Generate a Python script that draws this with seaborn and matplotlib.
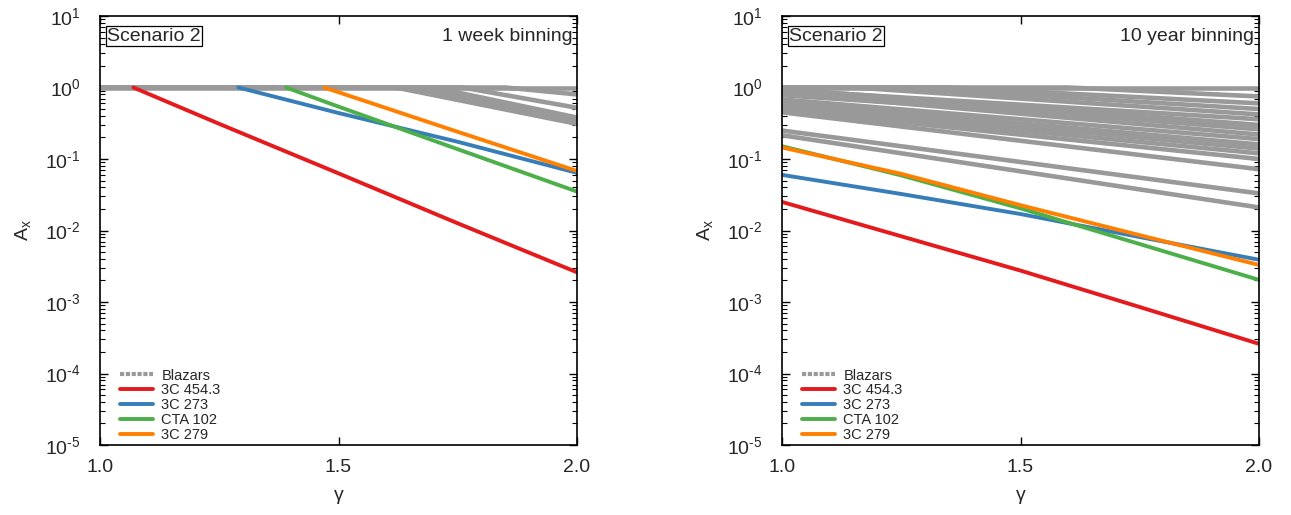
import math
import pandas as pd
import seaborn as sns
import matplotlib.pyplot as plt
from matplotlib.lines import Line2D
from matplotlib.ticker import LogLocator, NullFormatter, FixedLocator, FuncFormatter

# ---- 1 week binning (left panel) ----
red_w_g = [1.07, 1.25, 1.5, 1.75, 2.0]
red_w = [1.0, 0.31, 0.063, 0.0126, 0.0026]
blue_w_g = [1.29, 1.5, 1.75, 2.0]
blue_w = [1.0, 0.44, 0.174, 0.064]
green_w_g = [1.39, 1.5, 1.75, 2.0]
green_w = [1.0, 0.54, 0.137, 0.035]
orange_w_g = [1.47, 1.75, 2.0]
orange_w = [1.0, 0.24, 0.068]

gray_w = [
    ([1.0, 2.0], [1.0, 1.0]),
    ([1.0, 1.62, 2.0], [1.0, 1.0, 0.31]),
    ([1.0, 1.66, 2.0], [1.0, 1.0, 0.34]),
    ([1.0, 1.70, 2.0], [1.0, 1.0, 0.38]),
    ([1.0, 1.76, 2.0], [1.0, 1.0, 0.52]),
    ([1.0, 1.85, 2.0], [1.0, 1.0, 0.80]),
]

# ---- 10 year binning (right panel) ----
red_y_g = [1.0, 1.25, 1.5, 1.75, 2.0]
red_y = [0.0251, 0.0083, 0.00275, 0.00085, 0.00026]
blue_y_g = [1.0, 1.25, 1.5, 1.75, 2.0]
blue_y = [0.060, 0.0324, 0.0170, 0.0081, 0.0039]
green_y_g = [1.0, 1.25, 1.5, 1.75, 2.0]
green_y = [0.151, 0.059, 0.0204, 0.00646, 0.00204]
orange_y_g = [1.0, 1.25, 1.5, 1.75, 2.0]
orange_y = [0.145, 0.062, 0.0226, 0.0086, 0.0033]

gray_y = [
    ([1.0, 2.0], [1.0, 1.0]),
    ([1.0, 1.6, 2.0], [1.0, 1.0, 0.75]),
    ([1.0, 1.35, 2.0], [1.0, 1.0, 0.60]),
    ([1.0, 1.25, 2.0], [1.0, 1.0, 0.50]),
    ([1.0, 1.15, 2.0], [1.0, 1.0, 0.42]),
    ([1.0, 2.0], [0.95, 0.30]),
    ([1.0, 2.0], [0.92, 0.36]),
    ([1.0, 2.0], [0.88, 0.26]),
    ([1.0, 2.0], [0.84, 0.22]),
    ([1.0, 2.0], [0.78, 0.28]),
    ([1.0, 2.0], [0.68, 0.19]),
    ([1.0, 2.0], [0.62, 0.16]),
    ([1.0, 2.0], [0.57, 0.14]),
    ([1.0, 2.0], [0.52, 0.12]),
    ([1.0, 2.0], [0.48, 0.10]),
    ([1.0, 2.0], [0.45, 0.072]),
    ([1.0, 2.0], [0.25, 0.033]),
    ([1.0, 2.0], [0.215, 0.021]),
]

names = ['3C 454.3', '3C 273', 'CTA 102', '3C 279']
colors = ['#e41a1c', '#377eb8', '#4daf4a', '#ff7f00']
gray = '#999999'
y_ticks = [1e-5, 1e-4, 1e-3, 1e-2, 1e-1, 1e0, 1e1]

panels = [
    ('1 week binning', gray_w,
     [(red_w_g, red_w), (blue_w_g, blue_w), (green_w_g, green_w), (orange_w_g, orange_w)]),
    ('10 year binning', gray_y,
     [(red_y_g, red_y), (blue_y_g, blue_y), (green_y_g, green_y), (orange_y_g, orange_y)]),
]

sns.set_style('ticks')
plt.rcParams['font.family'] = ['Liberation Sans', 'DejaVu Sans']
plt.rcParams['mathtext.fontset'] = 'custom'
plt.rcParams['mathtext.rm'] = 'Liberation Sans'
plt.rcParams['mathtext.it'] = 'Liberation Sans:italic'
plt.rcParams['mathtext.default'] = 'regular'


def pow_label(v, pos):
    # gnuplot-style "10^-1" with a short hyphen
    e = int(round(math.log10(v)))
    return '10$^{%s}$' % str(e).replace('-', '\u2010')


fig = plt.figure(figsize=(12.91, 5.15), dpi=100)
ax_pos = [[100 / 1291, 70 / 515, 477 / 1291, 429 / 515],
          [782 / 1291, 70 / 515, 477 / 1291, 429 / 515]]

for pos, (label, gray_lines, src) in zip(ax_pos, panels):
    ax = fig.add_axes(pos)

    rows = []
    for i, (g, v) in enumerate(gray_lines):
        for gg, vv in zip(g, v):
            rows.append({'gamma': gg, 'A': vv, 'line': i})
    df_gray = pd.DataFrame(rows)
    sns.lineplot(data=df_gray, x='gamma', y='A', units='line', estimator=None,
                 color=gray, linewidth=3.3, legend=False, ax=ax)

    rows = []
    for name, (g, v) in zip(names, src):
        for gg, vv in zip(g, v):
            rows.append({'gamma': gg, 'A': vv, 'name': name})
    df_src = pd.DataFrame(rows)
    sns.lineplot(data=df_src, x='gamma', y='A', hue='name', hue_order=names,
                 palette=colors, estimator=None, linewidth=2.8, legend=False, ax=ax)

    ax.set_yscale('log')
    ax.set_ylim(1e-5, 1e1)
    ax.set_xlim(1.0, 2.0)
    ax.xaxis.set_major_locator(FixedLocator([1.0, 1.5, 2.0]))
    ax.set_xticklabels(['1.0', '1.5', '2.0'])
    ax.yaxis.set_major_locator(FixedLocator(y_ticks))
    ax.yaxis.set_major_formatter(FuncFormatter(pow_label))
    ax.yaxis.set_minor_locator(LogLocator(base=10, subs=range(2, 10), numticks=20))
    ax.yaxis.set_minor_formatter(NullFormatter())
    ax.tick_params(which='both', direction='in', top=True, right=True,
                   labelsize=14, color='black')
    ax.tick_params(which='major', length=6, width=1)
    ax.tick_params(which='minor', length=3.5, width=0.8)
    ax.tick_params(axis='y', which='major', pad=14)
    ax.tick_params(axis='x', which='major', pad=10)
    for s in ax.spines.values():
        s.set_color('black')
        s.set_linewidth(1.2)

    ax.set_xlabel('γ', fontsize=14, labelpad=8)
    ax.set_ylabel('A$_{x}$', fontsize=14, labelpad=9)

    ax.text(0.015, 0.953, 'Scenario 2', transform=ax.transAxes, fontsize=14,
            ha='left', va='center',
            bbox=dict(boxstyle='square,pad=0.08', facecolor='white',
                      edgecolor='black', linewidth=0.9))
    ax.text(0.99, 0.953, label, transform=ax.transAxes, fontsize=14,
            ha='right', va='center')

    handles = [Line2D([], [], color=gray, lw=3, ls=(0, (1, 0.4)))]
    handles += [Line2D([], [], color=c, lw=2.8) for c in colors]
    ax.legend(handles, ['Blazars'] + names, loc='lower left', frameon=False,
              fontsize=10.5, handlelength=2.3, handletextpad=0.55,
              labelspacing=0.06, borderaxespad=0.3, bbox_to_anchor=(0.02, -0.017))

fig.savefig('out.png', dpi=100)
